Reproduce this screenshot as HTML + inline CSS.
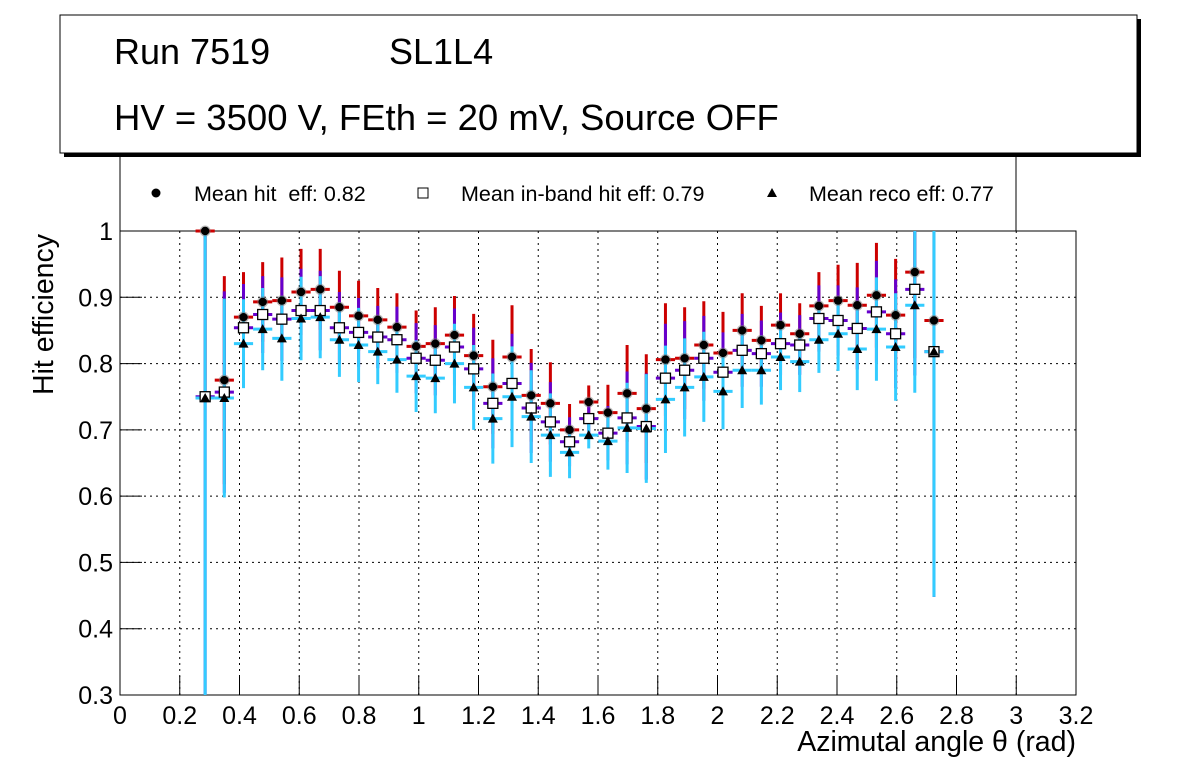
<!DOCTYPE html>
<html><head><meta charset="utf-8"><style>
body{margin:0;background:#fff;}
svg text{font-family:"Liberation Sans",sans-serif;}
</style></head><body>
<svg id="c" width="1196" height="772" xmlns="http://www.w3.org/2000/svg">
<rect x="0" y="0" width="1196" height="772" fill="#fff"/>
<rect x="64" y="19" width="1077" height="138" fill="#000"/>
<rect x="60" y="15" width="1077" height="138" fill="#fff" stroke="#000" stroke-width="1"/>
<text x="114" y="64" font-size="36">Run 7519</text>
<text x="389" y="64" font-size="36">SL1L4</text>
<text x="114" y="130" font-size="36.5">HV = 3500 V, FEth = 20 mV, Source OFF</text>
<g>
<line x1="120" y1="157" x2="120" y2="231" stroke="#000"/>
<line x1="1016" y1="157" x2="1016" y2="231" stroke="#000"/>
<circle cx="156" cy="193" r="4.5" fill="#000"/>
<text x="194" y="201" font-size="21.5" xml:space="preserve">Mean hit  eff: 0.82</text>
<rect x="418" y="188" width="10" height="10" fill="#fff" stroke="#000"/>
<text x="461" y="201" font-size="21.5">Mean in-band hit eff: 0.79</text>
<polygon points="772,188 767,197 777,197" fill="#000"/>
<text x="809" y="201" font-size="21.5">Mean reco eff: 0.77</text>
</g>
<g id="grid"></g>
<g id="axes"></g>
<g id="marks"></g>
<text transform="translate(53,395) rotate(-90)" font-size="28.5" text-anchor="start">Hit efficiency</text>
<text x="1076" y="751" font-size="28.5" text-anchor="end">Azimutal angle θ (rad)</text>
</svg>
<script>
const hitVals=[1.0,0.775,0.87,0.893,0.895,0.908,0.912,0.885,0.872,0.866,0.855,0.826,0.83,0.843,0.812,0.765,0.81,0.752,0.74,0.70,0.742,0.726,0.755,0.732,0.806,0.808,0.828,0.816,0.85,0.835,0.858,0.845,0.887,0.895,0.888,0.903,0.873,0.938,0.865];
const hitErr=[0.25,0.157,0.068,0.06,0.065,0.065,0.061,0.055,0.053,0.048,0.051,0.054,0.055,0.059,0.063,0.071,0.078,0.07,0.062,0.039,0.025,0.042,0.073,0.082,0.085,0.077,0.066,0.062,0.056,0.052,0.048,0.046,0.051,0.054,0.064,0.079,0.085,0.13,0.37];
const inbandVals=[0.75,0.757,0.854,0.874,0.867,0.88,0.88,0.854,0.847,0.84,0.836,0.808,0.805,0.825,0.792,0.74,0.77,0.733,0.712,0.682,0.717,0.695,0.718,0.705,0.778,0.79,0.808,0.787,0.82,0.815,0.83,0.828,0.868,0.865,0.853,0.878,0.845,0.912,0.818];
const inbandErr=[0.45,0.152,0.066,0.058,0.063,0.063,0.06,0.054,0.052,0.047,0.05,0.053,0.053,0.058,0.062,0.068,0.075,0.068,0.06,0.037,0.022,0.041,0.07,0.08,0.082,0.074,0.064,0.06,0.055,0.05,0.047,0.045,0.05,0.053,0.062,0.077,0.082,0.13,0.37];
const recoVals=[0.748,0.748,0.83,0.852,0.838,0.868,0.87,0.836,0.828,0.818,0.806,0.781,0.778,0.8,0.764,0.717,0.75,0.72,0.692,0.666,0.692,0.683,0.703,0.702,0.746,0.764,0.78,0.758,0.79,0.79,0.81,0.803,0.836,0.845,0.822,0.852,0.825,0.888,0.818];
const recoErr=[0.5,0.15,0.067,0.062,0.064,0.063,0.062,0.056,0.056,0.049,0.05,0.054,0.053,0.06,0.064,0.068,0.076,0.07,0.063,0.039,0.02,0.043,0.068,0.082,0.081,0.074,0.068,0.057,0.057,0.052,0.05,0.046,0.05,0.056,0.062,0.078,0.081,0.132,0.37];
const xStart=0.285, binW=0.0642;
const xTicks=["0","0.2","0.4","0.6","0.8","1","1.2","1.4","1.6","1.8","2","2.2","2.4","2.6","2.8","3","3.2"];
const yTicks=["0.3","0.4","0.5","0.6","0.7","0.8","0.9","1"];
const X0=120,X1=1076,Y0=695,Y1=231,xmin=0,xmax=3.2,ymin=0.3,ymax=1.0;
const sx=v=>X0+(v-xmin)/(xmax-xmin)*(X1-X0);
const sy=v=>Y0-(v-ymin)/(ymax-ymin)*(Y0-Y1);
const cy=v=>Math.max(Y1,Math.min(Y0,sy(v)));
const NS="http://www.w3.org/2000/svg";
function mk(tag,attrs,parent){const e=document.createElementNS(NS,tag);for(const k in attrs)e.setAttribute(k,attrs[k]);parent.appendChild(e);return e;}
const grid=document.getElementById('grid'),axes=document.getElementById('axes'),marks=document.getElementById('marks');
mk('rect',{x:X0,y:Y1,width:X1-X0,height:Y0-Y1,fill:'none',stroke:'#000'},axes);
xTicks.forEach(t=>{const v=parseFloat(t),x=sx(v);
 if(v>0&&v<3.2){const g=mk('line',{x1:x,y1:Y1,x2:x,y2:Y0,stroke:'#000','stroke-dasharray':'2,4'},grid);}
 mk('line',{x1:x,y1:Y0,x2:x,y2:Y0-19,stroke:'#000'},axes);
 const tx=mk('text',{x:x,y:Y0+29,'font-size':25,'text-anchor':'middle'},axes);tx.textContent=t;
 
});
yTicks.forEach(t=>{const v=parseFloat(t),y=sy(v);
 if(v>0.3&&v<1){const g=mk('line',{x1:X0,y1:y,x2:X1,y2:y,stroke:'#000','stroke-dasharray':'2,4'},grid);}
 mk('line',{x1:X0,y1:y,x2:X0+22,y2:y,stroke:'#000'},axes);
 const tx=mk('text',{x:X0-7,y:y+9,'font-size':25,'text-anchor':'end'},axes);tx.textContent=t;
 
});
function errs(vals,er,col){
 vals.forEach((v,i)=>{const c=xStart+i*binW,x=sx(c);
  const l=mk('line',{x1:x,y1:cy(v-er[i]),x2:x,y2:cy(v+er[i]),stroke:col,'stroke-width':3},marks);
  
  const h=mk('line',{x1:sx(c-binW/2),y1:sy(v),x2:sx(c+binW/2),y2:sy(v),stroke:col,'stroke-width':3},marks);
  
 });
}
errs(hitVals,hitErr,'#cc0000');
errs(inbandVals,inbandErr,'#6600cc');
errs(recoVals,recoErr,'#33ccff');
hitVals.forEach((v,i)=>{const x=sx(xStart+i*binW),y=sy(v);
 mk('circle',{cx:x,cy:y,r:5.5,fill:'#777',opacity:0.5},marks);
 const c=mk('circle',{cx:x,cy:y,r:4.2,fill:'#000'},marks);
 });
inbandVals.forEach((v,i)=>{const x=sx(xStart+i*binW),y=sy(v);
 const r=mk('rect',{x:x-5,y:y-5,width:10,height:10,fill:'#fff',stroke:'#000','stroke-width':1.3},marks);
 });
recoVals.forEach((v,i)=>{const x=sx(xStart+i*binW),y=sy(v);
 const p=mk('polygon',{points:`${x},${y-5} ${x-5},${y+4} ${x+5},${y+4}`,fill:'#000'},marks);
 });
</script>
</body></html>
